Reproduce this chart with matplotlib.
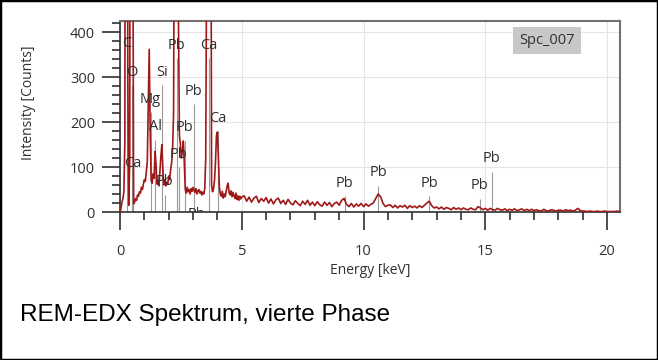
import matplotlib
matplotlib.use("Agg")
import matplotlib.pyplot as plt
import numpy as np
from matplotlib.patches import Rectangle
from matplotlib.ticker import MultipleLocator

# spectrum, low energy part (0.04 keV channels)
energy_low = np.round(np.arange(0, 5.0001, 0.04), 2)
counts_low = [
    0, 8, 22, 30, 45, 160, 2500, 2400, 300, 15,
    120, 3000, 3200, 800, 18, 22, 30, 26, 38, 35,
    45, 42, 55, 50, 62, 72, 68, 90, 110, 230,
    362, 180, 70, 64, 85, 75, 135, 105, 62, 70,
    58, 90, 125, 150, 95, 60, 72, 58, 66, 62,
    80, 72, 95, 110, 140, 220, 900, 3500, 4200, 3000,
    430, 170, 150, 120, 135, 158, 110, 50, 42, 55,
    45, 50, 40, 52, 46, 55, 48, 44, 52, 40,
    47, 50, 42, 46, 38, 44, 40, 52, 120, 600,
    2600, 3600, 3000, 1200, 60, 45, 52, 70, 110, 170,
    178, 120, 55, 40, 35, 46, 31, 40, 34, 46,
    58, 64, 43, 38, 47, 34, 44, 36, 30, 42,
    28, 36, 26, 35, 29, 33,
]

# spectrum, high energy part (0.1 keV channels)
energy_high = np.round(np.arange(5.1, 20.5001, 0.1), 2)
counts_high = [
    36, 24, 33, 22, 31, 35, 21, 30, 24, 32,
    20, 29, 18, 27, 31, 19, 26, 17, 28, 20,
    16, 25, 19, 14, 24, 17, 26, 15, 22, 14,
    23, 16, 13, 22, 15, 21, 12, 19, 22, 15,
    26, 30, 17, 12, 19, 11, 18, 13, 19, 12,
    18, 13, 17, 20, 30, 40, 34, 19, 12, 15,
    16, 10, 15, 9, 14, 11, 15, 8, 14, 10,
    13, 9, 14, 10, 15, 20, 24, 14, 9, 11,
    7, 11, 6, 10, 8, 5, 10, 6, 9, 5,
    9, 6, 5, 9, 6, 5, 12, 9, 5, 8,
    4, 8, 5, 4, 8, 5, 4, 7, 3, 6,
    4, 7, 3, 5, 7, 3, 6, 3, 6, 3,
    5, 3, 2, 6, 3, 2, 5, 4, 2, 4,
    4, 2, 5, 3, 4, 2, 4, 8, 3, 2,
    2, 1, 2, 1, 1, 2, 1, 1, 2, 1,
    1, 1, 1, 2, 1,
]

# element labels: text, energy [keV], label height [counts]
peak_names = ["C", "O", "Ca", "Mg", "Al", "Si", "Pb", "Pb", "Pb", "Pb",
              "Pb", "Pb", "Ca", "Ca", "Pb", "Pb", "Pb", "Pb", "Pb"]
peak_energy = [0.29, 0.49, 0.54, 1.26, 1.45, 1.74, 1.84, 2.33, 2.42, 2.66,
               3.03, 3.16, 3.64, 4.01, 9.22, 10.6, 12.7, 14.77, 15.27]
peak_label_y = [375, 311, 109, 251, 190, 311, 67, 371, 129, 188,
                269, -6, 371, 209, 64, 87, 64, 58, 118]

energy = np.concatenate([energy_low, energy_high])
counts = np.array(counts_low + counts_high, dtype=float)

plt.rcParams['font.family'] = ['Open Sans', 'DejaVu Sans']

fig = plt.figure(figsize=(6.58, 3.6), dpi=100)
ax = fig.add_axes([120 / 658, 148 / 360, 500 / 658, 191 / 360])

# marker lines under the labels
for e, ly in zip(peak_energy, peak_label_y):
    ax.vlines(e, 0, max(ly - 29, 0), color='#9a9a9a', lw=0.8, zorder=2)

ax.plot(energy, counts, color='#a01818', lw=1.2, zorder=3)

for name, e, ly in zip(peak_names, peak_energy, peak_label_y):
    ax.text(e, ly, name, ha='center', va='center', fontsize=10.5,
            color='#303030', zorder=4, clip_on=True)

ax.text(0.854, 0.898, 'Spc_007', transform=ax.transAxes, ha='center',
        va='center', fontsize=10.5, color='#303030',
        bbox=dict(facecolor='#c8c8c8', edgecolor='none', pad=4.5))

ax.set_xlim(0, 20.53)
ax.set_ylim(0, 425)
ax.xaxis.set_major_locator(MultipleLocator(5))
ax.xaxis.set_minor_locator(MultipleLocator(1))
ax.yaxis.set_major_locator(MultipleLocator(100))
ax.yaxis.set_minor_locator(MultipleLocator(20))

ax.grid(True, which='major', color='#e4e4e4', lw=0.8, zorder=0)
ax.set_axisbelow(True)

for side in ['top', 'right']:
    ax.spines[side].set_color('#707070')
    ax.spines[side].set_linewidth(1.5)
for side in ['left', 'bottom']:
    ax.spines[side].set_color('#303030')
    ax.spines[side].set_linewidth(1.2)

ax.tick_params(which='major', length=13, width=1.2, color='#303030',
               labelsize=10.5, labelcolor='#303030')
ax.tick_params(which='minor', length=6, width=1.2, color='#303030')
ax.tick_params(axis='y', which='major', pad=5)
ax.tick_params(axis='x', which='major', pad=10)

fig.text(28 / 658, 1 - 103 / 360, 'Intensity [Counts]', rotation=90,
         ha='center', va='center', fontsize=10, color='#303030')
fig.text(370 / 658, 1 - 271 / 360, 'Energy [keV]', ha='center',
         va='center', fontsize=10, color='#303030')

fig.text(20 / 658, 1 - 315 / 360, 'REM-EDX Spektrum, vierte Phase',
         ha='left', va='center', fontsize=17.5, family='Liberation Sans',
         color='black')

fig.patches.append(Rectangle((0, 0), 1, 1, transform=fig.transFigure,
                             fill=False, edgecolor='black', lw=2.5))

fig.savefig('out.png', dpi=100)
